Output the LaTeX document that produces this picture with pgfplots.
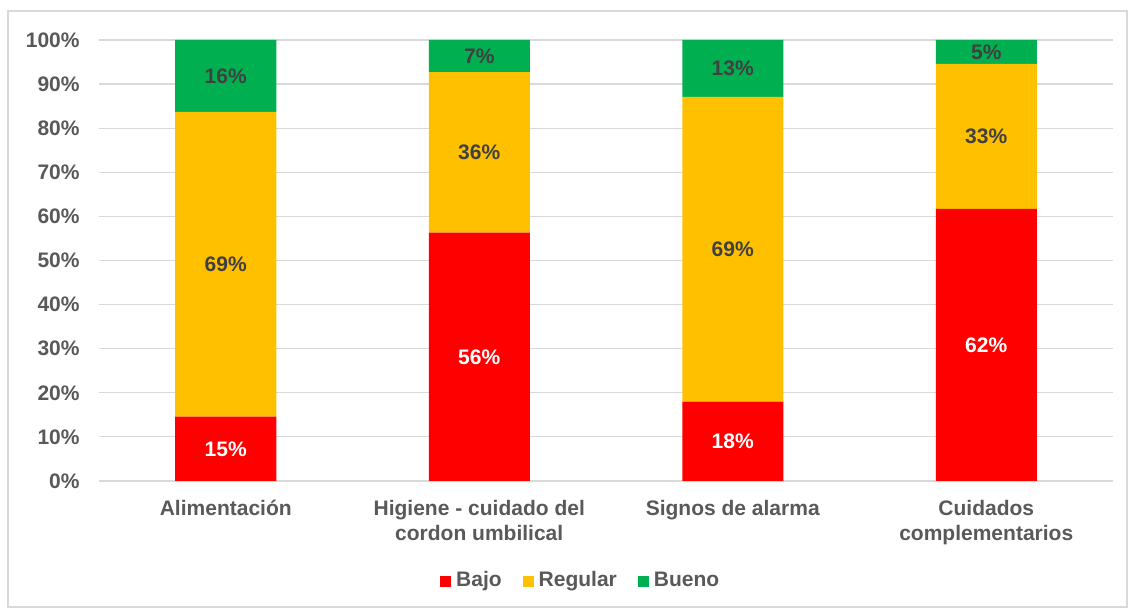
\documentclass[border=0pt]{standalone}
\usepackage{pgfplots}
\pgfplotsset{compat=1.18}
\usepackage{pgfplotstable}
\usepackage{fontspec}
\setmainfont{Liberation Sans}
\definecolor{cbajo}{HTML}{FF0000}
\definecolor{creg}{HTML}{FFC000}
\definecolor{cbue}{HTML}{00B050}
\definecolor{tgray}{HTML}{595959}
\definecolor{lgray}{HTML}{404040}
\definecolor{gridc}{HTML}{D9D9D9}
\pgfplotstableread{
x v
0 14.6
1 56.3
2 18.0
3 61.7
}\bajo
\pgfplotstableread{
x v
0 69.1
1 36.4
2 69.1
3 32.9
}\regular
\pgfplotstableread{
x v
0 16.3
1 7.3
2 12.9
3 5.4
}\bueno
\begin{document}
\begin{tikzpicture}[x=0.5pt,y=0.5pt]
\useasboundingbox (0,0) rectangle (1129,610);
\draw[gridc, line width=0.6pt] (8,3) rectangle (1127,599);
\begin{axis}[
  at={(49.5pt,64.5pt)}, anchor=south west,
  scale only axis, width=507pt, height=220.5pt,
  ybar stacked, bar width=50.5pt,
  xmin=-0.5, xmax=3.5, ymin=0, ymax=100,
  xtick={0,1,2,3},
  xticklabels={Alimentación, {Higiene - cuidado del\\cordon umbilical}, Signos de alarma, {Cuidados\\complementarios}},
  ytick={0,10,...,100},
  yticklabel={\pgfmathprintnumber{\tick}\%},
  /pgf/number format/assume math mode=true,
  ymajorgrids, grid style={gridc, line width=0.6pt},
  axis line style={draw=none},
  major tick length=0pt,
  tick label style={font=\fontsize{10.5}{12.5}\selectfont\bfseries, text=tgray},
  yticklabel style={anchor=east, inner sep=0pt, xshift=-9.5pt},
  xticklabel style={anchor=north, inner sep=0pt, yshift=-9.5pt, align=center},
  point meta=explicit,
  nodes near coords={\pgfmathprintnumber[fixed,precision=0]{\pgfplotspointmeta}\%},
  every node near coord/.append style={font=\fontsize{10.5}{12.5}\selectfont\bfseries, anchor=center, text height=0.72em, text depth=0pt},
  legend columns=3,
  legend style={at={(0.4765,-0.2270)}, anchor=center, draw=none, fill=none,
    font=\fontsize{10.5}{12.5}\selectfont\bfseries, text=tgray,
    /tikz/every even column/.append style={column sep=8pt},
    nodes={inner xsep=2.5pt, text height=0.75em, text depth=0.2em}},
  sq/.style={legend image code/.code={\fill[##1,draw=none] (0pt,-2.75pt) rectangle (5.5pt,2.75pt);}},
]
\addplot[fill=cbajo, draw=none, sq, every node near coord/.append style={text=white}] table[x=x, y=v, meta=v] {\bajo};
\addplot[fill=creg, draw=none, sq, every node near coord/.append style={text=lgray}] table[x=x, y=v, meta=v] {\regular};
\addplot[fill=cbue, draw=none, sq, every node near coord/.append style={text=lgray}] table[x=x, y=v, meta=v] {\bueno};
\legend{Bajo, Regular, Bueno}
\end{axis}
\end{tikzpicture}
\end{document}
